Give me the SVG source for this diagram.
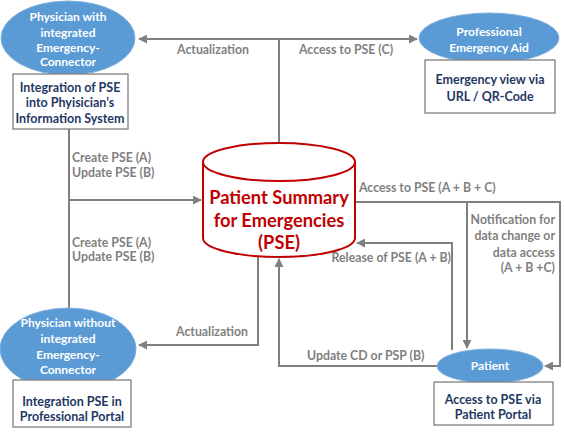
<svg xmlns="http://www.w3.org/2000/svg" width="565" height="438" viewBox="0 0 565 438">
<style>
.ell{fill:#5B9BD5;stroke:#7FB0DE;stroke-width:1}
.box{fill:#fff;stroke:#7F7F7F;stroke-width:1.3}
.et{font-family:Lato,"Liberation Sans",sans-serif;font-weight:bold;font-size:12px;fill:#fff;text-anchor:middle}
.bt{font-family:Lato,"Liberation Sans",sans-serif;font-weight:bold;font-size:12.5px;fill:#1F3864;text-anchor:middle}
.lb{font-family:Lato,"Liberation Sans",sans-serif;font-weight:bold;font-size:12.3px;fill:#7F7F7F}
.cn{fill:none;stroke:#808080;stroke-width:2}
.ct{font-family:Lato,"Liberation Sans",sans-serif;font-weight:bold;font-size:18.3px;fill:#C00000;text-anchor:middle}
</style>
<defs>
<marker id="ah" viewBox="0 0 10 10" refX="9" refY="5" markerWidth="4.5" markerHeight="4.5" orient="auto" markerUnits="strokeWidth">
<path d="M0,0 L10,5 L0,10 z" fill="#808080"/>
</marker>
</defs>
<rect width="565" height="438" fill="#fff"/>
<g id="connectors">
<path class="cn" d="M279,143 V39 H139" marker-end="url(#ah)"/>
<path class="cn" d="M279,39 H417" marker-end="url(#ah)"/>
<path class="cn" d="M69,129 V308"/>
<path class="cn" d="M69,200 H201" marker-end="url(#ah)"/>
<path class="cn" d="M258,256 V345 H139" marker-end="url(#ah)"/>
<path class="cn" d="M437,366 H279 V259" marker-end="url(#ah)"/>
<path class="cn" d="M355,202 H560 V366 H545" marker-end="url(#ah)"/>
<path class="cn" d="M467,202 V348" marker-end="url(#ah)"/>
<path class="cn" d="M452,350 V243 H357" marker-end="url(#ah)"/>
<text class="lb" x="213" y="54" text-anchor="middle">Actualization</text>
<text class="lb" x="299" y="54">Access to PSE (C)</text>
<text class="lb" x="72" y="162">Create PSE (A)</text>
<text class="lb" x="72" y="177">Update PSE (B)</text>
<text class="lb" x="72" y="247">Create PSE (A)</text>
<text class="lb" x="72" y="261">Update PSE (B)</text>
<text class="lb" x="359" y="192">Access to PSE (A + B + C)</text>
<text class="lb" x="451" y="262" text-anchor="end">Release of PSE (A + B)</text>
<text class="lb" x="555" y="224" text-anchor="end">Notification for</text>
<text class="lb" x="555" y="240" text-anchor="end">data change or</text>
<text class="lb" x="555" y="257" text-anchor="end">data access</text>
<text class="lb" x="555" y="272" text-anchor="end">(A + B +C)</text>
<text class="lb" x="248" y="336" text-anchor="end">Actualization</text>
<text class="lb" x="307" y="360">Update CD or PSP (B)</text>
</g>
<g id="pse">
<path d="M203,162 V238 A76,19 0 0 0 355,238 V162" fill="#fff" stroke="#C00000" stroke-width="2"/>
<ellipse cx="279" cy="162" rx="76" ry="19" fill="#fff" stroke="#C00000" stroke-width="2"/>
<text class="ct" x="279" y="204">Patient Summary</text>
<text class="ct" x="279" y="227">for Emergencies</text>
<text class="ct" x="279" y="249">(PSE)</text>
</g>
<g id="physician-with">
<ellipse class="ell" cx="68" cy="38" rx="67" ry="37"/>
<text class="et" x="68" y="21">Physician with</text>
<text class="et" x="68" y="37">integrated</text>
<text class="et" x="68" y="52">Emergency-</text>
<text class="et" x="68" y="66">Connector</text>
<rect class="box" x="13" y="74" width="115" height="55"/>
<text class="bt" x="70" y="92">Integration of PSE</text>
<text class="bt" x="70" y="107">into Phyisician’s</text>
<text class="bt" x="70" y="123">Information System</text>
</g>
<g id="professional">
<ellipse class="ell" cx="489" cy="38" rx="70" ry="25"/>
<text class="et" x="489" y="36">Professional</text>
<text class="et" x="489" y="52">Emergency Aid</text>
<rect class="box" x="425" y="60" width="130" height="53"/>
<text class="bt" x="490" y="84">Emergency view via</text>
<text class="bt" x="490" y="101">URL / QR-Code</text>
</g>
<g id="physician-without">
<ellipse class="ell" cx="68" cy="349" rx="68" ry="41"/>
<text class="et" x="68" y="327">Physician without</text>
<text class="et" x="68" y="343">integrated</text>
<text class="et" x="68" y="359">Emergency-</text>
<text class="et" x="68" y="374">Connector</text>
<rect class="box" x="13" y="380" width="118" height="47"/>
<text class="bt" x="72" y="406">Integration PSE in</text>
<text class="bt" x="72" y="421">Professional Portal</text>
</g>
<g id="patient">
<ellipse class="ell" cx="490" cy="366" rx="53" ry="17"/>
<text class="et" x="490" y="370">Patient</text>
<rect class="box" x="434" y="382" width="119" height="43"/>
<text class="bt" x="493" y="404">Access to PSE via</text>
<text class="bt" x="493" y="419">Patient Portal</text>
</g>
</svg>
